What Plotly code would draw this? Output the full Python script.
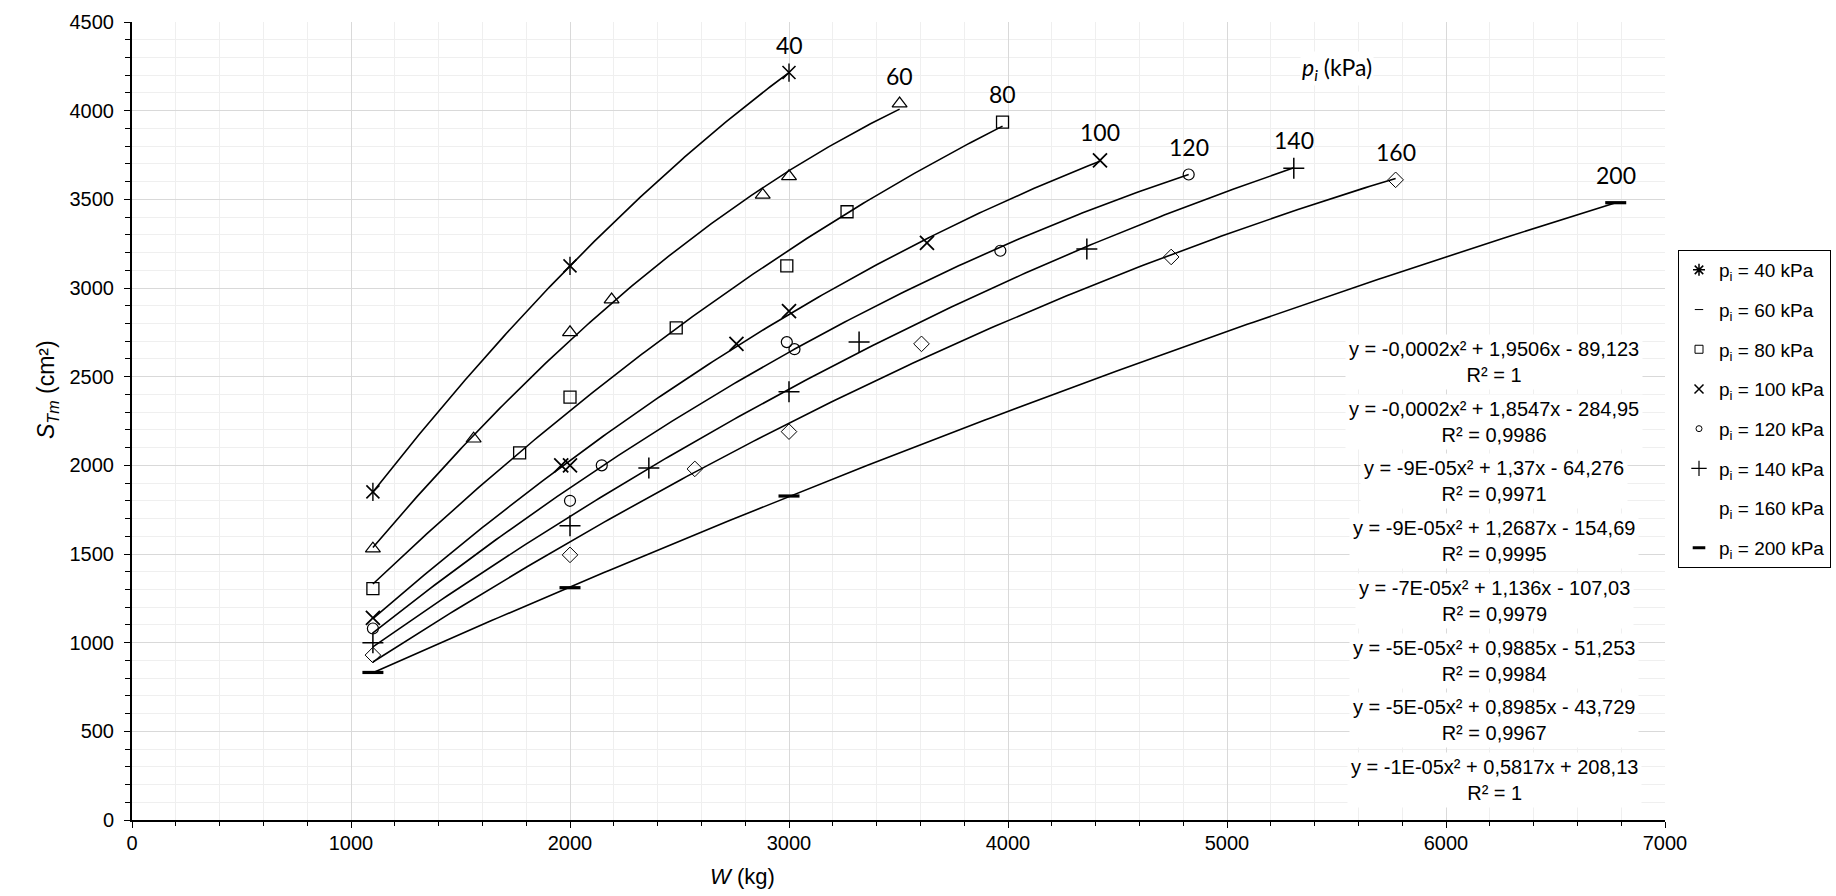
import numpy as np
import plotly.graph_objects as go

# ---------------- data ----------------
P_KPA = [40, 60, 80, 100, 120, 140, 160, 200]

W_40 = [1100, 2000, 3000]
S_40 = [1850, 3125, 4215]
W_60 = [1100, 1560, 2000, 2190, 2880, 3000, 3505]
S_60 = [1530, 2150, 2750, 2935, 3525, 3630, 4040]
W_80 = [1100, 1770, 2000, 2485, 2990, 3265, 3975]
S_80 = [1305, 2070, 2385, 2775, 3125, 3430, 3935]
W_100 = [1100, 1960, 2000, 2760, 3000, 3630, 4420]
S_100 = [1140, 2000, 2000, 2685, 2870, 3255, 3720]
W_120 = [1100, 2000, 2145, 2990, 3025, 3965, 4825]
S_120 = [1080, 1800, 2000, 2695, 2655, 3210, 3640]
W_140 = [1100, 2000, 2360, 3000, 3320, 4360, 5305]
S_140 = [1000, 1660, 1985, 2415, 2695, 3220, 3675]
W_160 = [1100, 2000, 2570, 3000, 3605, 4745, 5770]
S_160 = [930, 1495, 1980, 2190, 2685, 3175, 3610]
W_200 = [1100, 2000, 3000, 6775]
S_200 = [832, 1310, 1827, 3481]

EQUATIONS = [
    "y = -0,0002x² + 1,9506x - 89,123", "y = -0,0002x² + 1,8547x - 284,95",
    "y = -9E-05x² + 1,37x - 64,276", "y = -9E-05x² + 1,2687x - 154,69",
    "y = -7E-05x² + 1,136x - 107,03", "y = -5E-05x² + 0,9885x - 51,253",
    "y = -5E-05x² + 0,8985x - 43,729", "y = -1E-05x² + 0,5817x + 208,13",
]
R2 = ["1", "0,9986", "0,9971", "0,9995", "0,9979", "0,9984", "0,9967", "1"]

X_TICKS = [0, 1000, 2000, 3000, 4000, 5000, 6000, 7000]
Y_TICKS = [0, 500, 1000, 1500, 2000, 2500, 3000, 3500, 4000, 4500]

SERIES = list(zip(P_KPA,
                  [W_40, W_60, W_80, W_100, W_120, W_140, W_160, W_200],
                  [S_40, S_60, S_80, S_100, S_120, S_140, S_160, S_200]))

# ---------------- styles ----------------
PLOT_SYMBOLS = {
    40: [("x-thin-open", 13, 1.6), ("line-ns-open", 13, 1.4)],
    60: [("triangle-up-open", 13, 1.2)],
    80: [("square-open", 12, 1.3)],
    100: [("x-thin-open", 14, 1.8)],
    120: [("circle-open", 11, 1.2)],
    140: [("cross-thin-open", 15, 1.5)],
    160: [("diamond-open", 12, 1.0)],
    200: [("line-ew-open", 15, 3.2)],
}
LEGEND_SYMBOLS = {
    40: ("asterisk-open", 10, 1.5, "black"),
    60: ("line-ew-open", 6, 1.0, "black"),
    80: ("square-open", 8, 1.0, "black"),
    100: ("x-thin-open", 9, 1.5, "black"),
    120: ("circle-open", 6, 1.0, "black"),
    140: ("cross-thin-open", 11, 1.2, "black"),
    160: ("diamond-open", 8, 1.0, "rgba(0,0,0,0)"),
    200: ("line-ew-open", 9, 3.0, "black"),
}

FIG_W, FIG_H = 1836, 896
ML, MR, MT, MB = 132, 171, 22, 76
PW, PH = FIG_W - ML - MR, FIG_H - MT - MB


def px_to_paper(px, py):
    return (px - ML) / PW, (FIG_H - MB - py) / PH


fig = go.Figure()

for p, W, S in SERIES:
    coef = np.polyfit(W, S, 2)
    xs = np.linspace(min(W), max(W), 200)
    fig.add_trace(go.Scatter(x=xs, y=np.polyval(coef, xs), mode="lines",
                             line=dict(color="black", width=1.6),
                             showlegend=False, hoverinfo="skip"))
    for sym, size, lw in PLOT_SYMBOLS[p]:
        fig.add_trace(go.Scatter(x=W, y=S, mode="markers", showlegend=False,
                                 marker=dict(symbol=sym, size=size, color="black",
                                             line=dict(color="black", width=lw))))
    fig.add_annotation(x=W[-1], y=S[-1], text=str(p), showarrow=False,
                       xanchor="center", yanchor="middle",
                       yshift=28, font=dict(family="Lato", size=23, color="black"))

for i, p in enumerate(P_KPA):
    sym, size, lw, col = LEGEND_SYMBOLS[p]
    fig.add_trace(go.Scatter(x=[None], y=[None], mode="markers",
                             name=f"p<sub>i</sub> = {p} kPa", legendgroup=f"g{p}",
                             marker=dict(symbol=sym, size=size, color=col,
                                         line=dict(color=col, width=lw))))

# equations
for i, (eq, r2) in enumerate(zip(EQUATIONS, R2)):
    xp, yp = px_to_paper(1494, 362 + 59.7 * i)
    fig.add_annotation(xref="paper", yref="paper", x=xp, y=yp,
                       xanchor="center", yanchor="middle",
                       text=f"{eq}<br>R² = {r2}", showarrow=False, align="center",
                       bgcolor="white", borderpad=3,
                       font=dict(family="Liberation Sans", size=20, color="black"))

# p_i (kPa) label
xp, yp = px_to_paper(1337, 68)
fig.add_annotation(xref="paper", yref="paper", x=xp, y=yp,
                   xanchor="center", yanchor="middle",
                   text="<i>p<sub>i</sub></i> (kPa)", showarrow=False, bgcolor="white",
                   font=dict(family="Lato", size=23, color="black"))

# axis titles
xp, yp = px_to_paper(47, 390)
fig.add_annotation(xref="paper", yref="paper", x=xp, y=yp, textangle=-90,
                   xanchor="center", yanchor="middle",
                   text="<i>S<sub>Tm</sub></i> (cm²)", showarrow=False,
                   font=dict(family="Liberation Sans", size=23, color="black"))
xp, yp = px_to_paper(742, 876)
fig.add_annotation(xref="paper", yref="paper", x=xp, y=yp,
                   xanchor="center", yanchor="middle",
                   text="<i>W</i> (kg)", showarrow=False,
                   font=dict(family="Liberation Sans", size=22, color="black"))

lx, ly = px_to_paper(1678, 250)
fig.update_layout(
    width=FIG_W, height=FIG_H,
    margin=dict(l=ML, r=MR, t=MT, b=MB, autoexpand=False),
    paper_bgcolor="white", plot_bgcolor="white",
    font=dict(family="Liberation Sans", size=20, color="black"),
    showlegend=True,
    legend=dict(x=lx, y=ly, xanchor="left", yanchor="top",
                bordercolor="black", borderwidth=1, bgcolor="white",
                font=dict(family="Liberation Sans", size=19, color="black"),
                tracegroupgap=12, itemwidth=30),
    xaxis=dict(range=[0, 7000], tickvals=X_TICKS, ticktext=[str(v) for v in X_TICKS],
               showgrid=True, gridcolor="#d9d9d9", gridwidth=1,
               showline=True, linecolor="black", linewidth=2, zeroline=False,
               ticks="outside", ticklen=6, tickcolor="black", tickwidth=1,
               tickfont=dict(size=20, color="black"), ticklabelstandoff=-2,
               minor=dict(dtick=200, showgrid=True, gridcolor="#efefef",
                          ticks="outside", ticklen=4, tickcolor="black")),
    yaxis=dict(range=[0, 4500], tickvals=Y_TICKS, ticktext=[str(v) for v in Y_TICKS],
               showgrid=True, gridcolor="#d9d9d9", gridwidth=1,
               showline=True, linecolor="black", linewidth=2, zeroline=False,
               ticks="outside", ticklen=6, tickcolor="black", tickwidth=1,
               tickfont=dict(size=20, color="black"), ticklabelstandoff=6,
               minor=dict(dtick=100, showgrid=True, gridcolor="#efefef",
                          ticks="outside", ticklen=5, tickcolor="black")),
)

fig.write_html("out.html", config={"displayModeBar": False},
               post_script="document.body.style.margin='0px';document.body.style.overflow='hidden';")
